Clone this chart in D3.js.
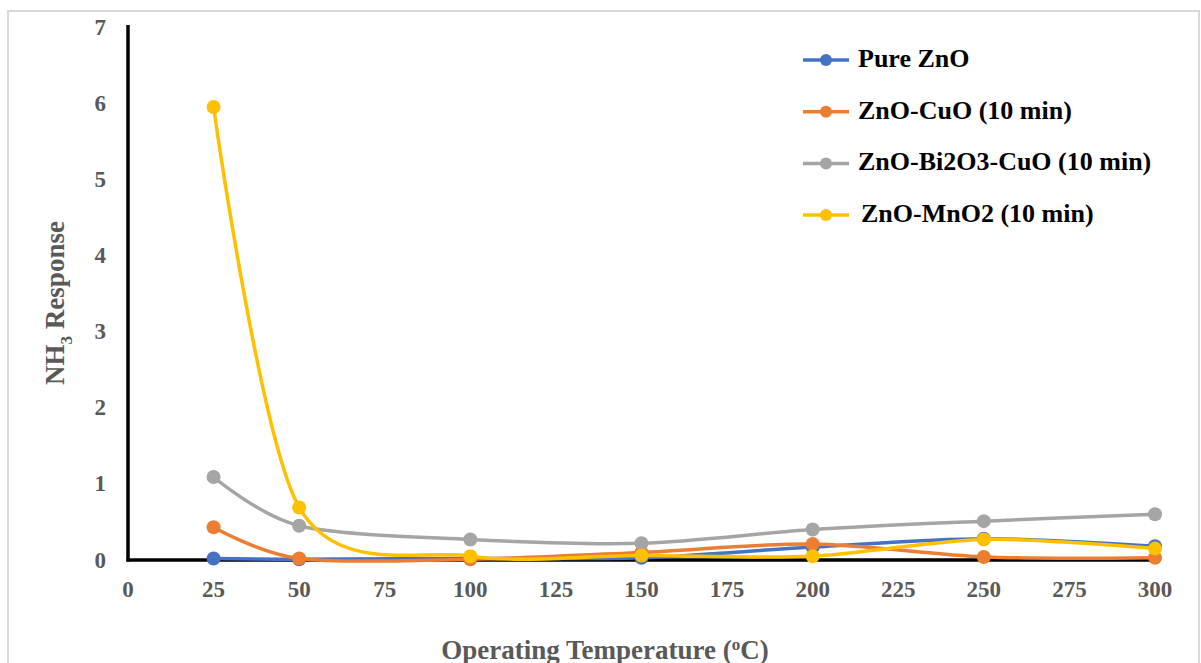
<!DOCTYPE html>
<meta charset="utf-8">
<script src="https://d3js.org/d3.v7.min.js"></script>
<style>
  body { margin: 0; background: #fff; }
  text { font-family: "Liberation Serif", "Times New Roman", serif; font-weight: bold; }
</style>
<div id="chart"></div>
<script>
// temperatures (oC) and NH3 response for each sample
var temps = [25, 50, 100, 150, 200, 250, 300]
var pureZnO = [0.02, 0.01, 0.02, 0.03, 0.17, 0.28, 0.18]
var znoCuO = [0.43, 0.02, 0.01, 0.10, 0.21, 0.04, 0.03]
var znoBiCuO = [1.09, 0.45, 0.27, 0.22, 0.40, 0.51, 0.60]
var znoMnO2 = [5.95, 0.69, 0.05, 0.06, 0.05, 0.27, 0.15]

var seriesNames = ["Pure ZnO", "ZnO-CuO (10 min)", "ZnO-Bi2O3-CuO (10 min)", "ZnO-MnO2 (10 min)"]
var seriesColors = ["#4472C4", "#ED7D31", "#A5A5A5", "#FFC000"]
var xTicks = [0, 25, 50, 75, 100, 125, 150, 175, 200, 225, 250, 275, 300]
var yTicks = [0, 1, 2, 3, 4, 5, 6, 7]

var width = 1201, height = 663
var svg = d3.select("#chart").append("svg").attr("width", width).attr("height", height)

// chart border
svg.append("rect")
  .attr("x", 8).attr("y", 11).attr("width", 1191).attr("height", 700)
  .attr("fill", "none").attr("stroke", "#d9d9d9").attr("stroke-width", 2)

var x = d3.scaleLinear().domain([0, 300]).range([128, 1155])
var y = d3.scaleLinear().domain([0, 7]).range([560, 27])

// tick labels
svg.append("g").selectAll("text").data(yTicks).enter().append("text")
  .attr("x", 106).attr("y", function(d){ return y(d) + 7.5 })
  .attr("text-anchor", "end").style("font-size", "23px").style("fill", "#595959")
  .text(function(d){ return d })

svg.append("g").selectAll("text").data(xTicks).enter().append("text")
  .attr("x", function(d){ return x(d) }).attr("y", 597)
  .attr("text-anchor", "middle").style("font-size", "23px").style("fill", "#595959")
  .text(function(d){ return d })

// axis titles
var xt = svg.append("text").attr("x", 605).attr("y", 659).attr("text-anchor", "middle")
  .style("font-size", "27px").style("fill", "#595959")
xt.append("tspan").text("Operating Temperature (")
xt.append("tspan").attr("dy", -9).style("font-size", "17px").text("o")
xt.append("tspan").attr("dy", 9).text("C)")

var yt = svg.append("text").attr("transform", "translate(64,303) rotate(-90)")
  .attr("text-anchor", "middle").style("font-size", "27px").style("fill", "#595959")
yt.append("tspan").text("NH")
yt.append("tspan").attr("dy", 8).style("font-size", "17px").text("3")
yt.append("tspan").attr("dy", -8).text(" Response")

// axes lines
svg.append("line").attr("x1", x(0)).attr("x2", x(0)).attr("y1", 25).attr("y2", y(0) + 1.5)
  .attr("stroke", "#000").attr("stroke-width", 3.5)
svg.append("line").attr("x1", x(0) - 1.5).attr("x2", x(300)).attr("y1", y(0)).attr("y2", y(0))
  .attr("stroke", "#000").attr("stroke-width", 3.5)

var allSeries = [pureZnO, znoCuO, znoBiCuO, znoMnO2]
var line = d3.line()
  .x(function(d, i){ return x(temps[i]) })
  .y(function(d){ return y(d) })
  .curve(d3.curveCardinal.tension(0.1))

allSeries.forEach(function(vals, k){
  svg.append("path").datum(vals)
    .attr("d", line).attr("fill", "none")
    .attr("stroke", seriesColors[k]).attr("stroke-width", 3.5)
  svg.append("g").selectAll("circle").data(vals).enter().append("circle")
    .attr("cx", function(d, i){ return x(temps[i]) })
    .attr("cy", function(d){ return y(d) })
    .attr("r", 7).attr("fill", seriesColors[k])
})

// legend
var legend = svg.append("g").selectAll("g").data(seriesNames).enter().append("g")
  .attr("transform", function(d, i){ return "translate(803," + (60 + i * 51.7) + ")" })
legend.append("line").attr("x1", 0).attr("x2", 46).attr("y1", 0).attr("y2", 0)
  .attr("stroke", function(d, i){ return seriesColors[i] }).attr("stroke-width", 3.5)
legend.append("circle").attr("cx", 23).attr("cy", 0).attr("r", 6)
  .attr("fill", function(d, i){ return seriesColors[i] })
legend.append("text").attr("x", function(d, i){ return i == 3 ? 58 : 55 }).attr("y", 7)
  .style("font-size", "26px").style("fill", "#000")
  .text(function(d){ return d })
</script>
